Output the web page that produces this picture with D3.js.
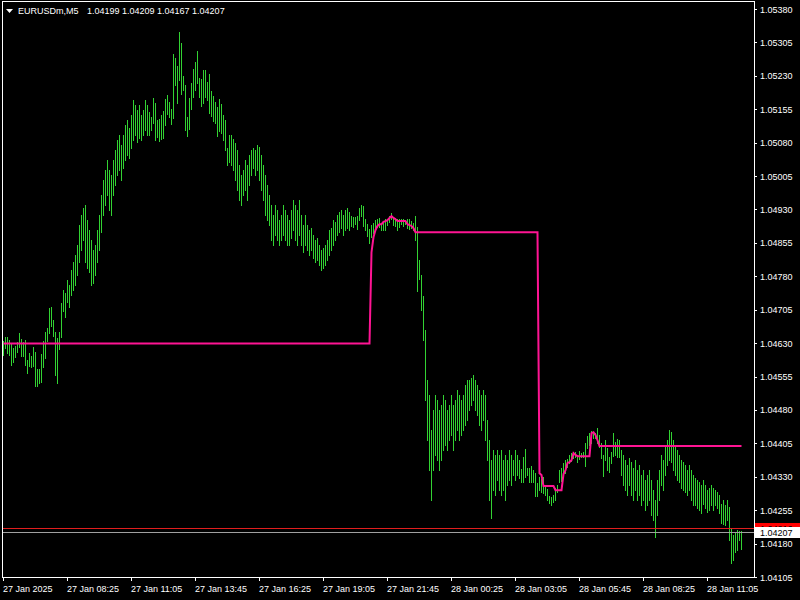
<!DOCTYPE html>
<html><head><meta charset="utf-8">
<script src="https://cdn.jsdelivr.net/npm/d3@7"></script>
<style>html,body{margin:0;padding:0;background:#000;overflow:hidden}</style>
</head><body>
<script>
const symbolTitle = "EURUSDm,M5";
const lastOHLC = [1.04199, 1.04209, 1.04167, 1.04207];
const askPrice = 1.04216;
const priceTicks = [1.05380,1.05305,1.05230,1.05155,1.05080,1.05005,1.04930,1.04855,1.04780,1.04705,1.04630,1.04555,1.04480,1.04405,1.04330,1.04255,1.04180,1.04105];
const timeLabels = ["27 Jan 2025","27 Jan 08:25","27 Jan 11:05","27 Jan 13:45","27 Jan 16:25","27 Jan 19:05","27 Jan 21:45","28 Jan 00:25","28 Jan 03:05","28 Jan 05:45","28 Jan 08:25","28 Jan 11:05"];
const barsPerLabel = 32;

const barHigh = [
1.04635,1.04644,1.04644,1.04637,1.04630,1.04619,1.04623,1.04632,1.04652,1.04639,
1.04632,1.04637,1.04592,1.04608,1.04601,1.04621,1.04610,1.04572,1.04572,1.04605,
1.04635,1.04655,1.04664,1.04709,1.04711,1.04682,1.04655,1.04641,1.04655,1.04720,
1.04749,1.04742,1.04771,1.04760,1.04794,1.04812,1.04828,1.04850,1.04895,1.04917,
1.04933,1.04940,1.04906,1.04884,1.04861,1.04839,1.04850,1.04884,1.04917,1.04962,
1.04996,1.05018,1.05041,1.05018,1.05007,1.05041,1.05063,1.05086,1.05097,1.05074,
1.05097,1.05119,1.05131,1.05113,1.05142,1.05176,1.05164,1.05153,1.05164,1.05142,
1.05153,1.05176,1.05164,1.05149,1.05137,1.05180,1.05169,1.05131,1.05133,1.05142,
1.05151,1.05178,1.05187,1.05171,1.05155,1.05279,1.05270,1.05252,1.05328,1.05304,
1.05229,1.05209,1.05137,1.05180,1.05214,1.05245,1.05261,1.05286,1.05225,1.05223,
1.05243,1.05243,1.05216,1.05234,1.05196,1.05185,1.05171,1.05160,1.05178,1.05166,
1.05142,1.05131,1.05068,1.05097,1.05097,1.05088,1.05079,1.05063,1.05030,1.05007,
1.05018,1.05041,1.05030,1.05052,1.05063,1.05068,1.05063,1.05074,1.05070,1.05052,
1.05030,1.05007,1.04985,1.04962,1.04940,1.04917,1.04940,1.04929,1.04906,1.04917,
1.04940,1.04929,1.04917,1.04906,1.04929,1.04951,1.04940,1.04929,1.04951,1.04917,
1.04895,1.04917,1.04895,1.04884,1.04888,1.04873,1.04861,1.04866,1.04850,1.04839,
1.04843,1.04850,1.04861,1.04884,1.04888,1.04906,1.04902,1.04917,1.04924,1.04929,
1.04917,1.04929,1.04933,1.04924,1.04915,1.04913,1.04913,1.04915,1.04933,1.04940,
1.04938,1.04908,1.04897,1.04886,1.04895,1.04900,1.04906,1.04908,1.04911,1.04900,
1.04904,1.04908,1.04908,1.04915,1.04922,1.04913,1.04911,1.04908,1.04908,1.04908,
1.04908,1.04902,1.04908,1.04908,1.04904,1.04900,1.04915,1.04891,1.04816,1.04783,
1.04736,1.04659,1.04547,1.04513,1.04435,1.04480,1.04513,1.04502,1.04480,1.04491,
1.04513,1.04502,1.04480,1.04491,1.04513,1.04491,1.04502,1.04525,1.04513,1.04502,
1.04513,1.04536,1.04547,1.04547,1.04551,1.04558,1.04547,1.04536,1.04525,1.04513,
1.04525,1.04513,1.04457,1.04412,1.04367,1.04390,1.04379,1.04390,1.04379,1.04390,
1.04367,1.04379,1.04367,1.04390,1.04379,1.04367,1.04390,1.04379,1.04367,1.04347,
1.04374,1.04392,1.04349,1.04349,1.04354,1.04345,1.04338,1.04316,1.04329,1.04325,
1.04329,1.04311,1.04302,1.04287,1.04285,1.04289,1.04305,1.04311,1.04345,1.04349,
1.04361,1.04367,1.04370,1.04379,1.04383,1.04385,1.04385,1.04379,1.04388,1.04383,
1.04385,1.04406,1.04421,1.04428,1.04433,1.04428,1.04428,1.04439,1.04424,1.04406,
1.04379,1.04412,1.04394,1.04374,1.04385,1.04428,1.04408,1.04415,1.04412,1.04390,
1.04379,1.04367,1.04356,1.04372,1.04363,1.04349,1.04367,1.04345,1.04356,1.04334,
1.04345,1.04323,1.04334,1.04345,1.04323,1.04300,1.04278,1.04323,1.04345,1.04379,
1.04367,1.04401,1.04412,1.04435,1.04430,1.04412,1.04401,1.04390,1.04379,1.04367,
1.04363,1.04356,1.04345,1.04356,1.04345,1.04334,1.04327,1.04323,1.04318,1.04311,
1.04323,1.04311,1.04300,1.04305,1.04311,1.04305,1.04300,1.04296,1.04289,1.04269,
1.04278,1.04266,1.04278,1.04262,1.04215,1.04199,1.04206,1.04210,1.04208,1.04209];

const barLow = [
1.04603,1.04619,1.04608,1.04603,1.04581,1.04587,1.04599,1.04610,1.04621,1.04601,
1.04601,1.04581,1.04563,1.04578,1.04576,1.04578,1.04534,1.04534,1.04540,1.04543,
1.04576,1.04596,1.04635,1.04652,1.04668,1.04646,1.04558,1.04540,1.04617,1.04643,
1.04702,1.04688,1.04722,1.04711,1.04738,1.04749,1.04760,1.04783,1.04812,1.04839,
1.04861,1.04812,1.04798,1.04789,1.04760,1.04765,1.04783,1.04812,1.04839,1.04879,
1.04917,1.04940,1.04962,1.04929,1.04917,1.04962,1.04985,1.05007,1.05018,1.04996,
1.05022,1.05041,1.05052,1.05045,1.05068,1.05086,1.05097,1.05081,1.05090,1.05086,
1.05097,1.05108,1.05097,1.05097,1.05108,1.05124,1.05086,1.05092,1.05083,1.05088,
1.05090,1.05119,1.05144,1.05137,1.05122,1.05135,1.05209,1.05169,1.05220,1.05189,
1.05198,1.05108,1.05095,1.05110,1.05155,1.05182,1.05198,1.05214,1.05182,1.05162,
1.05169,1.05182,1.05176,1.05146,1.05140,1.05128,1.05124,1.05095,1.05106,1.05101,
1.05086,1.05063,1.05030,1.05036,1.05030,1.05018,1.04996,1.04974,1.04951,1.04940,
1.04962,1.04974,1.04951,1.04985,1.05007,1.05022,1.05007,1.05018,1.04996,1.04974,
1.04951,1.04917,1.04906,1.04895,1.04861,1.04850,1.04873,1.04861,1.04850,1.04861,
1.04873,1.04861,1.04850,1.04850,1.04866,1.04884,1.04861,1.04850,1.04873,1.04850,
1.04834,1.04850,1.04839,1.04828,1.04839,1.04821,1.04812,1.04816,1.04805,1.04794,
1.04798,1.04805,1.04816,1.04828,1.04839,1.04850,1.04861,1.04873,1.04879,1.04888,
1.04873,1.04884,1.04888,1.04884,1.04893,1.04891,1.04897,1.04886,1.04906,1.04915,
1.04893,1.04884,1.04870,1.04855,1.04868,1.04877,1.04882,1.04891,1.04891,1.04884,
1.04884,1.04884,1.04895,1.04902,1.04908,1.04895,1.04893,1.04884,1.04891,1.04897,
1.04893,1.04897,1.04888,1.04886,1.04888,1.04884,1.04861,1.04747,1.04774,1.04704,
1.04637,1.04502,1.04412,1.04345,1.04278,1.04345,1.04379,1.04367,1.04345,1.04367,
1.04390,1.04401,1.04390,1.04412,1.04424,1.04390,1.04412,1.04435,1.04412,1.04424,
1.04435,1.04446,1.04457,1.04480,1.04491,1.04502,1.04480,1.04469,1.04446,1.04435,
1.04457,1.04412,1.04367,1.04278,1.04237,1.04300,1.04289,1.04323,1.04300,1.04289,
1.04300,1.04278,1.04311,1.04323,1.04311,1.04334,1.04323,1.04334,1.04328,1.04318,
1.04318,1.04329,1.04334,1.04318,1.04318,1.04318,1.04287,1.04287,1.04300,1.04296,
1.04293,1.04289,1.04278,1.04271,1.04266,1.04273,1.04278,1.04296,1.04318,1.04320,
1.04334,1.04338,1.04352,1.04361,1.04365,1.04372,1.04374,1.04363,1.04370,1.04374,
1.04374,1.04354,1.04394,1.04401,1.04406,1.04417,1.04417,1.04406,1.04397,1.04372,
1.04332,1.04367,1.04345,1.04340,1.04361,1.04376,1.04379,1.04374,1.04374,1.04334,
1.04311,1.04300,1.04289,1.04311,1.04289,1.04278,1.04300,1.04278,1.04289,1.04266,
1.04278,1.04255,1.04266,1.04278,1.04244,1.04233,1.04194,1.04244,1.04278,1.04311,
1.04300,1.04334,1.04356,1.04367,1.04363,1.04345,1.04334,1.04323,1.04318,1.04305,
1.04300,1.04296,1.04289,1.04300,1.04278,1.04266,1.04266,1.04260,1.04255,1.04249,
1.04269,1.04260,1.04251,1.04255,1.04266,1.04255,1.04266,1.04260,1.04249,1.04226,
1.04224,1.04222,1.04233,1.04188,1.04136,1.04143,1.04161,1.04165,1.04188,1.04167];

// indicator level per bar, as [value, number of consecutive bars]
const levelRuns = [
[1.04629,184],[1.04834,1],[1.04868,1],[1.04884,1],[1.04893,1],[1.04897,2],[1.04902,1],[1.04904,1],
[1.04906,1],[1.04911,1],[1.04915,1],[1.04911,1],[1.04908,1],[1.04904,5],[1.04897,1],[1.04895,1],
[1.04893,1],[1.04888,1],[1.04879,62],[1.04338,1],[1.04334,1],[1.04309,6],[1.04300,4],[1.04336,1],
[1.04345,1],[1.04361,1],[1.04363,1],[1.04367,1],[1.04383,1],[1.04379,1],[1.04376,7],[1.04428,1],
[1.04430,1],[1.04424,1],[1.04412,1],[1.04399,72]];

const level = levelRuns.flatMap(([v, n]) => Array.from({length: n}, () => v));

const FONT = "'Liberation Sans', Arial, sans-serif";
const svg = d3.select("body").append("svg").attr("width", 800).attr("height", 600)
  .style("display", "block").style("font-family", FONT);
svg.append("rect").attr("width", 800).attr("height", 600).attr("fill", "#000");

const n = barHigh.length;
const x = d3.scaleLinear().domain([0, n - 1]).range([3, 741]);
const y = d3.scaleLinear().domain([priceTicks[priceTicks.length - 1], priceTicks[0]]).range([577, 9]);

// bars
svg.append("g").attr("shape-rendering", "crispEdges")
  .selectAll("rect").data(d3.range(n)).join("rect")
  .attr("x", i => x(i))
  .attr("width", 1)
  .attr("y", i => Math.round(y(barHigh[i])))
  .attr("height", i => Math.max(1, Math.round(y(barLow[i])) - Math.round(y(barHigh[i])) + 1))
  .attr("fill", "#32d232");

// indicator line
svg.append("path").datum(level)
  .attr("fill", "none").attr("stroke", "#ff1493").attr("stroke-width", 2)
  .attr("stroke-linejoin", "miter")
  .attr("d", d3.line().x((d, i) => x(i) + 0.5).y(d => y(d)));

// bid / ask lines
const lines = svg.append("g").attr("shape-rendering", "crispEdges");
lines.append("line").attr("x1", 2).attr("x2", 754)
  .attr("y1", Math.round(y(askPrice)) + 0.5).attr("y2", Math.round(y(askPrice)) + 0.5)
  .attr("stroke", "#e01e1e");
lines.append("line").attr("x1", 2).attr("x2", 754)
  .attr("y1", Math.round(y(lastOHLC[3])) + 0.5).attr("y2", Math.round(y(lastOHLC[3])) + 0.5)
  .attr("stroke", "#a0a0a0");

// frame
svg.append("rect").attr("x", 2.5).attr("y", 1.5).attr("width", 752).attr("height", 576)
  .attr("fill", "none").attr("stroke", "#fff").attr("shape-rendering", "crispEdges");

// price axis
const yAxis = svg.append("g").attr("transform", "translate(754,0)")
  .call(d3.axisRight(y).tickValues(priceTicks).tickFormat(d3.format(".5f")).tickSize(3).tickSizeOuter(0));
yAxis.select(".domain").remove();
yAxis.selectAll("line").attr("stroke", "#fff").attr("shape-rendering", "crispEdges");
yAxis.selectAll("text").attr("fill", "#fff").attr("x", 6).attr("dy", 3)
  .style("font-size", "9px").style("font-family", FONT);

// time axis
const tickIdx = timeLabels.map((_, k) => k * barsPerLabel);
const xAxis = svg.append("g").attr("transform", "translate(0,577)")
  .call(d3.axisBottom(x).tickValues(tickIdx).tickFormat((d, k) => timeLabels[k]).tickSize(4).tickSizeOuter(0));
xAxis.select(".domain").remove();
xAxis.selectAll("line").attr("stroke", "#fff").attr("shape-rendering", "crispEdges");
xAxis.selectAll("text").attr("fill", "#fff").attr("text-anchor", "start")
  .attr("x", -0.5).attr("y", 15).attr("dy", 0)
  .style("font-size", "9px").style("font-family", FONT);

// price labels for ask (mostly covered) and bid
const askY = Math.round(y(askPrice)), bidY = Math.round(y(lastOHLC[3]));
const defs = svg.append("defs");
defs.append("clipPath").attr("id", "askClip").append("rect")
  .attr("x", 755).attr("y", askY - 5).attr("width", 45).attr("height", (bidY - 5) - (askY - 5));
svg.append("rect").attr("x", 755).attr("y", askY - 5).attr("width", 45).attr("height", 11)
  .attr("fill", "#ff0000").attr("shape-rendering", "crispEdges");
svg.append("g").attr("clip-path", "url(#askClip)")
  .append("text").attr("x", 760).attr("y", askY + 3.5).attr("fill", "#000")
  .style("font-size", "9px").text(d3.format(".5f")(askPrice));
svg.append("rect").attr("x", 755).attr("y", bidY - 5).attr("width", 45).attr("height", 11)
  .attr("fill", "#ffffff").attr("shape-rendering", "crispEdges");
svg.append("text").attr("x", 760).attr("y", bidY + 3.5).attr("fill", "#000")
  .style("font-size", "9px").text(d3.format(".5f")(lastOHLC[3]));

// title
svg.append("path").attr("d", "M6,9L13,9L9.5,13Z").attr("fill", "#fff");
svg.append("text").attr("x", 18).attr("y", 14).attr("fill", "#fff").style("font-size", "9px").text(symbolTitle);
svg.append("text").attr("x", 87).attr("y", 14).attr("fill", "#fff").style("font-size", "9px")
  .text(lastOHLC.map(d3.format(".5f")).join(" "));
</script>
</body></html>
